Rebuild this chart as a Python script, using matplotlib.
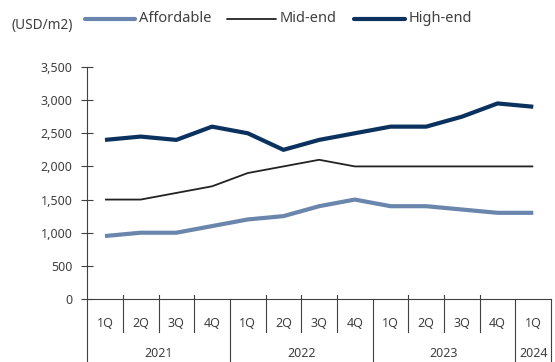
import matplotlib
matplotlib.use("Agg")
import matplotlib.pyplot as plt
from matplotlib.lines import Line2D
from matplotlib.transforms import blended_transform_factory

quarters = ["1Q", "2Q", "3Q", "4Q", "1Q", "2Q", "3Q", "4Q", "1Q", "2Q", "3Q", "4Q", "1Q"]
years = ["2021", "2022", "2023", "2024"]
year_spans = [4, 4, 4, 1]
series_names = ["Affordable", "Mid-end", "High-end"]
affordable = [950, 1000, 1000, 1100, 1200, 1250, 1400, 1500, 1400, 1400, 1350, 1300, 1300]
mid_end = [1500, 1500, 1600, 1700, 1900, 2000, 2100, 2000, 2000, 2000, 2000, 2000, 2000]
high_end = [2400, 2450, 2400, 2600, 2500, 2250, 2400, 2500, 2600, 2600, 2750, 2950, 2900]

plt.rcParams["font.family"] = ["Noto Sans", "DejaVu Sans"]
text_color = "#404040"
axis_color = "#404040"
colors = ["#6a86ad", "#222222", "#0b325e"]
widths = [3.0, 1.3, 3.0]

W, H = 555, 362
fig = plt.figure(figsize=(W / 100, H / 100), dpi=100)
ax = fig.add_axes([0.157, 0.174, 0.836, 0.641])

x = list(range(len(quarters)))
for vals, c, lw in zip([affordable, mid_end, high_end], colors, widths):
    ax.plot(x, vals, color=c, lw=lw, solid_capstyle="butt", solid_joinstyle="round")

ax.set_xlim(-0.5, len(quarters) - 0.5)
ax.set_ylim(0, 3500)
ax.set_yticks(range(0, 3501, 500))
ax.set_yticklabels([f"{v:,}" for v in range(0, 3501, 500)])
ax.tick_params(axis="y", direction="inout", length=9, width=0.8, color=axis_color,
               labelcolor=text_color, labelsize=9, pad=6)
ax.set_xticks([])

for s in ["top", "right"]:
    ax.spines[s].set_visible(False)
for s in ["left", "bottom"]:
    ax.spines[s].set_color(axis_color)
    ax.spines[s].set_linewidth(0.8)

trans = blended_transform_factory(ax.transData, ax.transAxes)
ax_h_px = 0.641 * H
def ay(px):
    # pixel offset below the x-axis converted to axes fraction
    return -px / ax_h_px

# quarter separators, year separators and their labels
year_bounds = [-0.5]
for span in year_spans:
    year_bounds.append(year_bounds[-1] + span)
for i in range(len(quarters) + 1):
    b = i - 0.5
    if b in year_bounds:
        ax.add_line(Line2D([b, b], [0, ay(63)], transform=trans, color=axis_color,
                           lw=0.8, clip_on=False))
    else:
        ax.add_line(Line2D([b, b], [ay(-4), ay(33)], transform=trans, color=axis_color,
                           lw=0.8, clip_on=False))
for i, q in enumerate(quarters):
    ax.text(i, ay(24), q, transform=trans, ha="center", va="center",
            fontsize=9, color=text_color)
for k, yr in enumerate(years):
    cx = (year_bounds[k] + year_bounds[k + 1]) / 2
    ax.text(cx, ay(54), yr, transform=trans, ha="center", va="center",
            fontsize=9, color=text_color)

# unit label and legend along the top
fig.text(12 / W, 1 - 25 / H, "(USD/m2)", ha="left", va="center",
         fontsize=9.8, color=text_color)
legend_x = [(85, 135), (227, 276), (354, 405)]
ly = 1 - 19 / H
for name, c, lw, (x0, x1) in zip(series_names, colors, widths, legend_x):
    fig.add_artist(Line2D([x0 / W, x1 / W], [ly, ly], transform=fig.transFigure,
                          color=c, lw=lw, solid_capstyle="round"))
    fig.text((x1 + 4) / W, ly, name, ha="left", va="center",
             fontsize=10.5, color=text_color)

fig.savefig("out.png", dpi=100)
